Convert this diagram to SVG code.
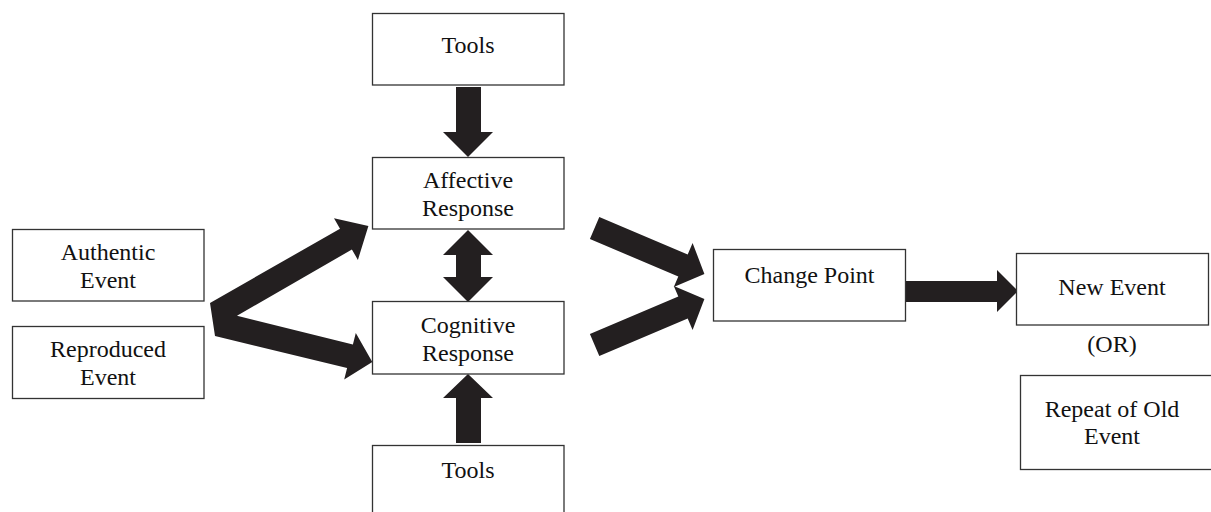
<svg xmlns="http://www.w3.org/2000/svg" width="1211" height="512" viewBox="0 0 1211 512">
<style>
.box{fill:#fff;stroke:#333;stroke-width:1.3}
.t{font-family:"Liberation Serif","Times New Roman",serif;font-size:24px;fill:#111;text-anchor:middle}
.arr{fill:#231f20;stroke:none}
</style>
<rect width="1211" height="512" fill="#fff"/>
<g id="connectors">
<path class="arr" d="M456,87 H481 V132 H493 L468,157 L443,132 H456 Z"/>
<path class="arr" d="M468,230 L493,255 H481 V277 H493 L468,302 L443,277 H456 V255 H443 Z"/>
<path class="arr" d="M456,443 H481 V398 H493 L468,374 L443,398 H456 Z"/>
<path class="arr" d="M210,303 L340,228.7 L334,218.3 L368.4,226.1 L357.9,259.9 L351.9,249.5 L237,315.8 L352.9,344.6 L355.8,333 L372.3,361.9 L344.2,379.6 L347.1,367.9 L215,336 Z"/>
<path class="arr" d="M599.3,216.9 L687.7,254.4 L692.6,242.9 L704.4,274 L673.8,287.1 L678.3,276.5 L589.9,239 Z"/>
<path class="arr" d="M599.3,356.1 L687.7,318.6 L692.6,330.1 L704.4,299 L673.8,285.9 L678.3,296.5 L589.9,334 Z"/>
<path class="arr" d="M906,281 H997 V270 L1018,291 L997,312 V302 H906 Z"/>
</g>
<g id="tools-top"><rect class="box" x="372.5" y="13.5" width="191.5" height="71.5"/><text class="t" x="468" y="53">Tools</text></g>
<g id="affective"><rect class="box" x="372.5" y="157.5" width="191.5" height="71.5"/><text class="t" x="468" y="188">Affective</text><text class="t" x="468" y="216">Response</text></g>
<g id="cognitive"><rect class="box" x="372.5" y="301.5" width="191.5" height="72.5"/><text class="t" x="468" y="333">Cognitive</text><text class="t" x="468" y="361">Response</text></g>
<g id="tools-bottom"><rect class="box" x="372.5" y="445.5" width="191.5" height="80"/><text class="t" x="468" y="478">Tools</text></g>
<g id="authentic"><rect class="box" x="12.5" y="229.5" width="191.5" height="71.5"/><text class="t" x="108" y="260">Authentic</text><text class="t" x="108" y="288">Event</text></g>
<g id="reproduced"><rect class="box" x="12.5" y="326.5" width="191.5" height="72"/><text class="t" x="108" y="357">Reproduced</text><text class="t" x="108" y="385">Event</text></g>
<g id="change-point"><rect class="box" x="713.5" y="249.5" width="192" height="71.5"/><text class="t" x="809.5" y="283">Change Point</text></g>
<g id="new-event"><rect class="box" x="1016.5" y="253.5" width="192" height="71.5"/><text class="t" x="1112" y="295">New Event</text></g>
<g id="or-label"><text class="t" x="1112" y="352">(OR)</text></g>
<g id="repeat-event"><rect class="box" x="1020.5" y="375.5" width="200" height="94"/><text class="t" x="1112" y="417">Repeat of Old</text><text class="t" x="1112" y="444">Event</text></g>
</svg>
